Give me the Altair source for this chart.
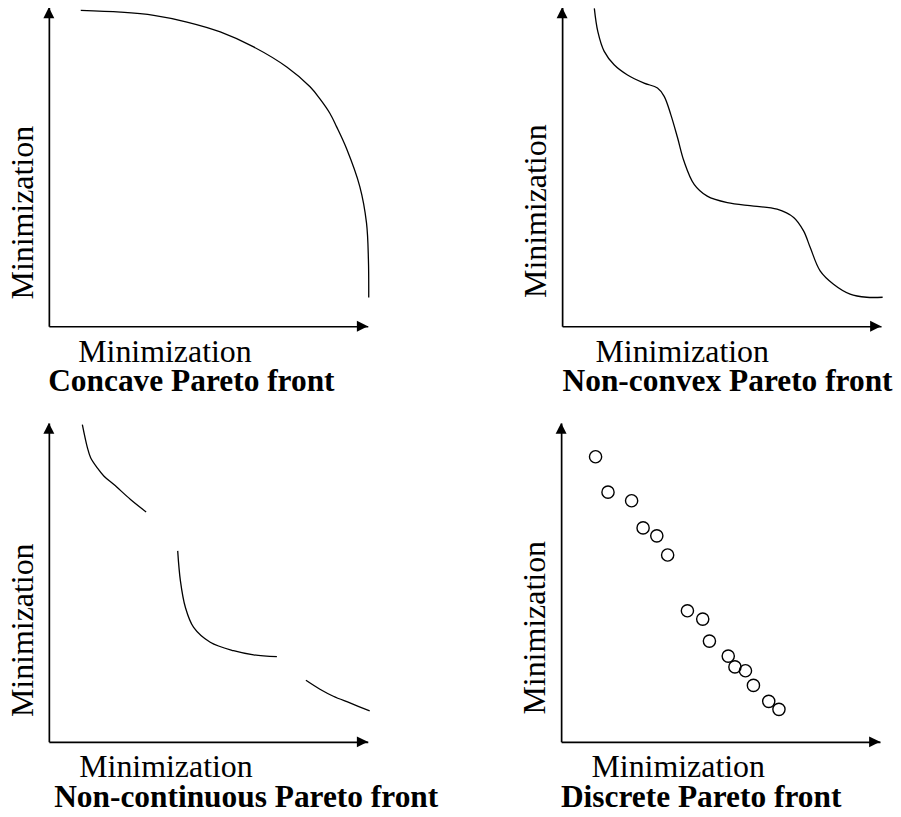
import altair as alt
import pandas as pd

# ---------------- data (both axes run 0..100, arrow tips at 100) ----------------
concave_x = [10.0, 22.5, 32.9, 43.3, 53.75, 64.2, 74.6, 81.9, 85.0, 88.1, 90.2, 93.3,
             97.5, 99.6, 100.2, 100.3]
concave_y = [99.06, 98.5, 97.5, 95.4, 92.3, 87.6, 81.3, 75.1, 71.3, 66.8, 62.6, 55.8,
             43.8, 32.4, 20.9, 9.0]

nonconvex_x = [10.1, 11.2, 13.2, 16.3, 20.5, 25.7, 29.9, 32.0, 34.1, 36.2, 38.2, 41.4, 45.5,
               51.8, 60.1, 67.4, 72.6, 75.7, 77.8, 80.9, 85.1, 90.3, 95.5, 100.5]
nonconvex_y = [99.7, 92.4, 86.2, 82.0, 78.8, 76.25, 74.7, 72.1, 66.3, 59.1, 51.8, 44.5, 40.8,
               38.75, 37.7, 36.7, 34.1, 29.9, 24.7, 17.4, 13.2, 10.1, 9.1, 9.1]

noncont_seg = [1, 1, 1, 1, 1, 1, 1, 1,
               2, 2, 2, 2, 2, 2, 2, 2,
               3, 3, 3, 3, 3]
noncont_x = [10.5, 12.1, 13.1, 15.2, 17.3, 20.4, 25.6, 30.5,
             40.4, 41.25, 42.8, 45.4, 50.6, 57.9, 64.2, 71.5,
             80.6, 85.0, 89.2, 94.4, 100.6]
noncont_y = [99.5, 92.2, 89.1, 85.9, 83.3, 80.7, 76.0, 72.1,
             59.9, 50.5, 42.2, 35.9, 31.25, 28.6, 27.3, 26.7,
             19.3, 16.5, 14.3, 12.2, 9.7]

discrete_x = [10.8, 14.7, 22.1, 25.7, 30.0, 33.4, 39.6, 44.4, 46.5, 52.4, 54.5, 57.8, 60.3, 65.1, 68.3]
discrete_y = [89.4, 78.3, 75.6, 67.1, 64.6, 58.6, 41.1, 38.5, 31.6, 26.9, 23.5, 22.3, 17.7, 12.7, 10.2]

axis_label = "Minimization"
panel_titles = ["Concave Pareto front", "Non-convex Pareto front",
                "Non-continuous Pareto front", "Discrete Pareto front"]

FONT = "Liberation Serif"
W = H = 320
ARROW_RIGHT = "M-1,-1L1,0L-1,1Z"
ARROW_UP = "M-1,1L0,-1L1,1Z"


def enc(title_x, title_y):
    common = dict(title=axis_label, ticks=False, labels=False, grid=False,
                  domainColor="black", domainWidth=1.7, titleFont=FONT,
                  titleFontSize=32, titleFontWeight="normal", titleColor="black",
                  titleAlign="center")
    xa = alt.Axis(titlePadding=10, titleX=title_x, **common)
    ya = alt.Axis(titlePadding=9.5, titleY=title_y, **common)
    sc = alt.Scale(domain=[0, 100], nice=False, zero=False)
    return (alt.X("x:Q", scale=sc, axis=xa), alt.Y("y:Q", scale=sc, axis=ya))


def arrows(ex, ey):
    r = pd.DataFrame({"x": [98.3], "y": [0.0]})
    u = pd.DataFrame({"x": [0.0], "y": [98.3]})
    a1 = alt.Chart(r).mark_point(shape=ARROW_RIGHT, filled=True, color="black",
                                 opacity=1, size=121).encode(x=ex, y=ey)
    a2 = alt.Chart(u).mark_point(shape=ARROW_UP, filled=True, color="black",
                                 opacity=1, size=121).encode(x=ex, y=ey)
    return a1, a2


def title(text, dx):
    return alt.TitleParams(text=text, orient="bottom", anchor="middle", frame="group",
                           dx=dx, fontSize=31.5, font=FONT, fontWeight="bold",
                           color="black", offset=-1)


LINE = dict(color="black", strokeWidth=1.3, interpolate="catmull-rom")

# Panel 1
ex, ey = enc(116, 205.5)
d1 = pd.DataFrame({"x": concave_x, "y": concave_y})
l1 = alt.Chart(d1).mark_line(**LINE).encode(x=ex, y=ey)
p1 = alt.layer(l1, *arrows(ex, ey)).properties(width=W, height=H, title=title(panel_titles[0], -17))

# Panel 2
ex, ey = enc(120, 204)
d2 = pd.DataFrame({"x": nonconvex_x, "y": nonconvex_y})
l2 = alt.Chart(d2).mark_line(**LINE).encode(x=ex, y=ey)
p2 = alt.layer(l2, *arrows(ex, ey)).properties(width=W, height=H, title=title(panel_titles[1], 6))

# Panel 3
ex, ey = enc(117, 207.5)
d3 = pd.DataFrame({"x": noncont_x, "y": noncont_y, "seg": noncont_seg})
l3 = alt.Chart(d3).mark_line(**LINE).encode(x=ex, y=ey, detail="seg:N")
p3 = alt.layer(l3, *arrows(ex, ey)).properties(width=W, height=H, title=title(panel_titles[2], 38))

# Panel 4
ex, ey = enc(117, 205)
d4 = pd.DataFrame({"x": discrete_x, "y": discrete_y})
l4 = alt.Chart(d4).mark_point(shape="circle", filled=False, color="black", opacity=1,
                              strokeWidth=1.4, size=150).encode(x=ex, y=ey)
p4 = alt.layer(l4, *arrows(ex, ey)).properties(width=W, height=H, title=title(panel_titles[3], -19.5))

chart = alt.vconcat(
    alt.hconcat(p1, p2, spacing=148),
    alt.hconcat(p3, p4, spacing=80),
    spacing=24,
).properties(
    padding={"left": -2, "top": -4, "right": 0, "bottom": -6},
    background="white",
).configure_view(stroke="transparent", strokeWidth=0)

chart.save("out.html", embed_options={"renderer": "svg", "actions": False})
